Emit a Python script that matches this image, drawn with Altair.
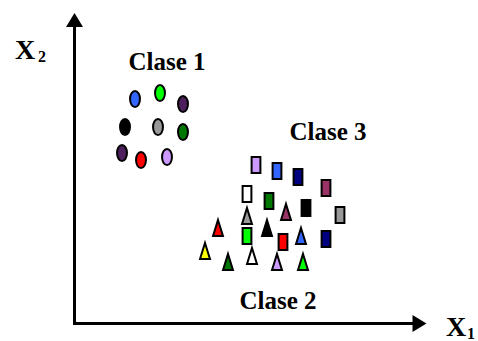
import altair as alt
import pandas as pd

# Class 1: ellipses
c1_x = [135, 160, 183, 125, 158, 183, 122, 141, 167]
c1_y = [99, 93, 104, 127, 127, 132, 153, 160, 157]
c1_col = ["#3366FF", "#00FF00", "#4D1F5C", "#000000", "#999999", "#007700", "#4D1F5C", "#FF0000", "#CC99FF"]

# Class 3: rectangles
c3_x = [256, 277, 298, 326, 247, 269, 306, 340, 247, 283, 326]
c3_y = [165, 171, 177, 188, 194, 201, 208, 215, 236, 242, 239]
c3_col = ["#CC99FF", "#3366FF", "#000080", "#993366", "#FFFFFF", "#007700", "#000000", "#999999", "#00FF00", "#FF0000", "#000080"]

# Class 2: triangles
c2_x = [247, 286, 218, 267, 301, 205, 252, 228, 277, 303]
c2_y = [216, 212, 228, 228, 236, 251, 256, 262, 262, 262]
c2_col = ["#999999", "#993366", "#FF0000", "#000000", "#3366FF", "#FFFF00", "#FFFFFF", "#007700", "#CC99FF", "#00FF00"]

labels = ["Clase 1", "Clase 3", "Clase 2"]
label_x = [167, 328, 278]
label_y = [70, 140, 309]

FONT = "Liberation Serif, Times New Roman, serif"

W, H = 478, 341
xs = alt.Scale(domain=[0, W], range=[0, W])
ys = alt.Scale(domain=[0, H], range=[0, H])

def X(f="x"):
    return alt.X(f"{f}:Q", scale=xs, axis=None)

def Y(f="y"):
    return alt.Y(f"{f}:Q", scale=ys, axis=None)

ELLIPSE = "M0,-1 A0.62,1 0 1,1 0,1 A0.62,1 0 1,1 0,-1 Z"
RECT = "M-0.55,-1 L0.55,-1 L0.55,1 L-0.55,1 Z"
TRI = "M0,-1 L0.62,1 L-0.62,1 Z"

def cluster(xv, yv, cv, shape):
    df = pd.DataFrame({"x": xv, "y": yv, "c": cv})
    return alt.Chart(df).mark_point(
        shape=shape, size=256, filled=True, stroke="black", strokeWidth=2, opacity=1
    ).encode(x=X(), y=Y(), fill=alt.Fill("c:N", scale=None))

vline = alt.Chart(pd.DataFrame({"x": [74.5], "y": [325], "y2": [26]})).mark_rule(
    color="black", strokeWidth=3).encode(x=X(), y=Y(), y2="y2:Q")
hline = alt.Chart(pd.DataFrame({"x": [73], "x2": [413], "y": [323.5]})).mark_rule(
    color="black", strokeWidth=3).encode(x=X(), x2="x2:Q", y=Y())

up = alt.Chart(pd.DataFrame({"x": [74.5], "y": [20]})).mark_point(
    shape="M0,-0.82 L1,0.82 L-1,0.82 Z", size=289, filled=True, color="black", opacity=1
).encode(x=X(), y=Y())
right = alt.Chart(pd.DataFrame({"x": [419.5], "y": [323.5]})).mark_point(
    shape="M0.82,0 L-0.82,1 L-0.82,-1 Z", size=289, filled=True, color="black", opacity=1
).encode(x=X(), y=Y())

lab = alt.Chart(pd.DataFrame({"x": label_x, "y": label_y, "t": labels})).mark_text(
    font=FONT, fontWeight="bold", fontSize=25, align="center", baseline="alphabetic",
    color="black").encode(x=X(), y=Y(), text="t:N")

bigX = alt.Chart(pd.DataFrame({"x": [15, 446], "y": [59, 336], "t": ["X", "X"]})).mark_text(
    font=FONT, fontWeight="bold", fontSize=28, align="left", baseline="alphabetic",
    color="black").encode(x=X(), y=Y(), text="t:N")
subs = alt.Chart(pd.DataFrame({"x": [38, 467], "y": [62, 339], "t": ["2", "1"]})).mark_text(
    font=FONT, fontWeight="bold", fontSize=16, align="left", baseline="alphabetic",
    color="black").encode(x=X(), y=Y(), text="t:N")

chart = alt.layer(
    vline, hline, up, right,
    cluster(c1_x, c1_y, c1_col, ELLIPSE),
    cluster(c3_x, c3_y, c3_col, RECT),
    cluster(c2_x, c2_y, c2_col, TRI),
    lab, bigX, subs,
).properties(width=W, height=H, padding=0, autosize="none", background="white"
).configure_view(stroke=None)

chart.save("out.html", embed_options={"renderer": "svg", "actions": False})
